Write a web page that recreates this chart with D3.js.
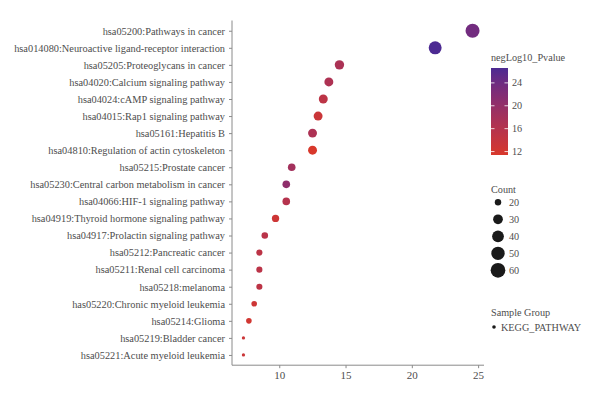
<!DOCTYPE html>
<html>
<head>
<meta charset="utf-8">
<script src="https://cdn.jsdelivr.net/npm/d3@7"></script>
<style>
  body { margin: 0; background: #fff; }
  text { font-family: "Liberation Serif", "DejaVu Serif", serif; fill: #4d4d4d; }
</style>
</head>
<body>
<svg id="chart"></svg>
<script>
// pathways, top to bottom
var pathways = [
  "hsa05200:Pathways in cancer",
  "hsa014080:Neuroactive ligand-receptor interaction",
  "hsa05205:Proteoglycans in cancer",
  "hsa04020:Calcium signaling pathway",
  "hsa04024:cAMP signaling pathway",
  "hsa04015:Rap1 signaling pathway",
  "hsa05161:Hepatitis B",
  "hsa04810:Regulation of actin cytoskeleton",
  "hsa05215:Prostate cancer",
  "hsa05230:Central carbon metabolism in cancer",
  "hsa04066:HIF-1 signaling pathway",
  "hsa04919:Thyroid hormone signaling pathway",
  "hsa04917:Prolactin signaling pathway",
  "hsa05212:Pancreatic cancer",
  "hsa05211:Renal cell carcinoma",
  "hsa05218:melanoma",
  "has05220:Chronic myeloid leukemia",
  "hsa05214:Glioma",
  "hsa05219:Bladder cancer",
  "hsa05221:Acute myeloid leukemia"
];
var xValues = [24.58, 21.76, 14.54, 13.74, 13.32, 12.93, 12.51, 12.51, 10.94, 10.53,
               10.53, 9.72, 8.91, 8.5, 8.5, 8.5, 8.11, 7.71, 7.3, 7.3];
var pvalues = [23.6, 26.6, 17.2, 16.8, 15.0, 13.2, 17.0, 11.4, 18.2, 20.5,
               16.0, 12.8, 15.4, 15.0, 15.2, 15.0, 12.8, 12.3, 13.0, 13.2];
var counts = [61, 53, 32, 30, 30, 30, 30, 30, 25, 25,
              25, 24, 22, 21, 21, 21, 20, 20, 18, 18];
var colorTicks = [12, 16, 20, 24];
var countTicks = [20, 30, 40, 50, 60];
var xTicks = [10, 15, 20, 25];
var groupName = "KEGG_PATHWAY";

var width = 600, height = 399;
var plotLeft = 232, plotRight = 484, plotTop = 20.5, plotBottom = 365.2;

var svg = d3.select("#chart").attr("width", width).attr("height", height);

var xMin = d3.min(xValues), xMax = d3.max(xValues), pad = (xMax - xMin) * 0.05;
var xScale = d3.scaleLinear().domain([xMin - pad, xMax + pad]).range([plotLeft, plotRight]);
var yScale = d3.scalePoint().domain(pathways).range([plotTop, plotBottom]).padding(0.6);

var pMin = d3.min(pvalues), pMax = d3.max(pvalues);
var colorScale = d3.scaleLinear().domain([pMin, pMax])
  .range(["#d8382b", "#4c2a92"]).interpolate(d3.interpolateLab);

var cMin = d3.min(counts), cMax = d3.max(counts);
var rMin = 1.65, rMax = 7;
var sqrtScale = d3.scaleSqrt().domain([0, cMax - cMin]).range([0, rMax - rMin]).clamp(true);
function radius(c) { return rMin + sqrtScale(c - cMin); }

// axes
var xAxis = svg.append("g").attr("transform", "translate(0," + plotBottom + ")")
  .call(d3.axisBottom(xScale).tickValues(xTicks).tickSizeOuter(0).tickSize(3).tickPadding(3));
var yAxis = svg.append("g").attr("transform", "translate(" + plotLeft + ",0)")
  .call(d3.axisLeft(yScale).tickSizeOuter(0).tickSize(3).tickPadding(4));
svg.selectAll(".domain, .tick line").attr("stroke", "#8a8a8a");
xAxis.selectAll("text").attr("font-size", 11).style("fill", "#4d4d4d");
yAxis.selectAll("text").attr("font-size", 10.35).style("fill", "#4d4d4d");
xAxis.select(".domain").attr("d", "M" + plotLeft + ",0H" + plotRight);
yAxis.select(".domain").attr("d", "M0," + plotTop + "V" + plotBottom);

// points
svg.append("g").selectAll("circle").data(pathways).join("circle")
  .attr("cx", function(d, i) { return xScale(xValues[i]); })
  .attr("cy", function(d) { return yScale(d); })
  .attr("r", function(d, i) { return radius(counts[i]); })
  .attr("fill", function(d, i) { return colorScale(pvalues[i]); });

// colour legend
var legX = 491;
svg.append("text").attr("x", legX).attr("y", 61).attr("font-size", 10.2).text("negLog10_Pvalue");
var barTop = 68, barBottom = 155, barW = 17;
var defs = svg.append("defs");
var grad = defs.append("linearGradient").attr("id", "pgrad")
  .attr("x1", 0).attr("y1", 1).attr("x2", 0).attr("y2", 0);
d3.range(0, 1.0001, 0.1).forEach(function(t) {
  grad.append("stop").attr("offset", t).attr("stop-color", colorScale(pMin + t * (pMax - pMin)));
});
svg.append("rect").attr("x", legX).attr("y", barTop).attr("width", barW)
  .attr("height", barBottom - barTop).attr("fill", "url(#pgrad)");
var barScale = d3.scaleLinear().domain([pMin, pMax]).range([barBottom, barTop]);
var cb = svg.append("g").selectAll("g").data(colorTicks).join("g");
cb.append("line").attr("x1", legX).attr("x2", legX + 3.5)
  .attr("y1", function(d) { return barScale(d); }).attr("y2", function(d) { return barScale(d); })
  .attr("stroke", "#fff").attr("stroke-width", 0.8);
cb.append("line").attr("x1", legX + barW - 3.5).attr("x2", legX + barW)
  .attr("y1", function(d) { return barScale(d); }).attr("y2", function(d) { return barScale(d); })
  .attr("stroke", "#fff").attr("stroke-width", 0.8);
cb.append("text").attr("x", legX + barW + 4).attr("y", function(d) { return barScale(d); })
  .attr("dy", "0.35em").attr("font-size", 10.2).text(function(d) { return d; });

// size legend
svg.append("text").attr("x", legX).attr("y", 193).attr("font-size", 10.2).text("Count");
var sz = svg.append("g").selectAll("g").data(countTicks).join("g")
  .attr("transform", function(d, i) { return "translate(" + (legX + 7) + "," + (202.3 + i * 17) + ")"; });
sz.append("circle").attr("r", function(d) { return radius(d) + 0.4; }).attr("fill", "#1a1a1a");
sz.append("text").attr("x", 11).attr("dy", "0.35em").attr("font-size", 10.2).text(function(d) { return d; });

// group legend
svg.append("text").attr("x", legX).attr("y", 316).attr("font-size", 10.2).text("Sample Group");
svg.append("circle").attr("cx", legX + 3).attr("cy", 327).attr("r", 1.8).attr("fill", "#1a1a1a");
svg.append("text").attr("x", legX + 10).attr("y", 327).attr("dy", "0.35em").attr("font-size", 10.2).text(groupName);
</script>
</body>
</html>
